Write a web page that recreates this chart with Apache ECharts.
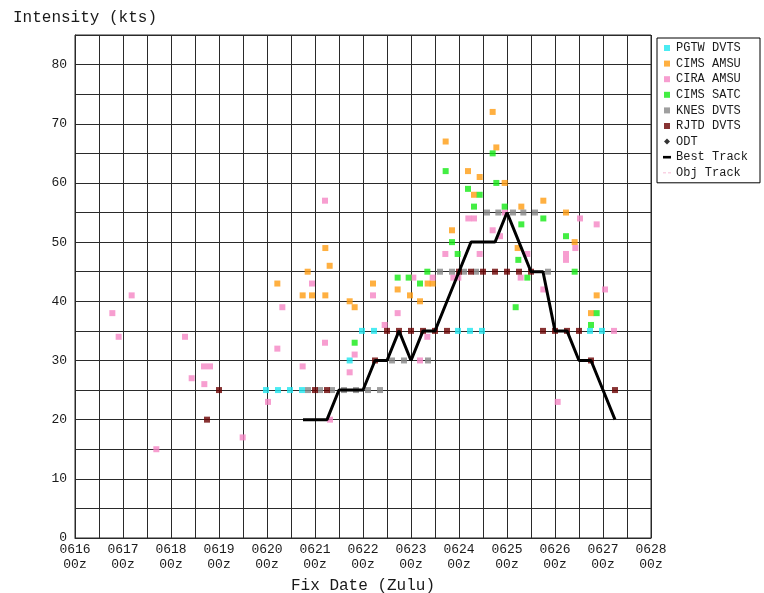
<!DOCTYPE html>
<html>
<head>
<meta charset="utf-8">
<title>Intensity fixes</title>
<script src="https://cdn.jsdelivr.net/npm/echarts@6/dist/echarts.min.js"></script>
<style>
  html, body { margin: 0; padding: 0; background: #fff; }
  #chart { width: 764px; height: 593px; }
</style>
</head>
<body>
<div id="chart"></div>
<script>
// Fix times are 'MMDD HH:MM' (UTC), intensities in knots.
const dayLabels = ['0616','0617','0618','0619','0620','0621','0622','0623','0624','0625','0626','0627','0628'];
const yTickLabels = [0, 10, 20, 30, 40, 50, 60, 70, 80];

const pgtwFixes = [
  ['0619 23:30', 25], ['0620 05:30', 25], ['0620 11:30', 25], ['0620 17:30', 25],
  ['0621 17:20', 30], ['0621 23:30', 35], ['0622 05:30', 35],
  ['0623 23:30', 35], ['0624 05:30', 35], ['0624 11:30', 35],
  ['0626 17:30', 35], ['0626 23:30', 35]
];

const cimsAmsuFixes = [
  ['0620 05:10', 43], ['0620 20:20', 45], ['0620 17:50', 41], ['0620 22:30', 41],
  ['0621 05:10', 41], ['0621 05:10', 49], ['0621 07:20', 46], ['0621 17:20', 40],
  ['0621 19:50', 39], ['0622 05:00', 43], ['0622 17:20', 42], ['0622 23:30', 41],
  ['0623 04:30', 40], ['0623 08:20', 43], ['0623 10:50', 43], ['0623 17:20', 67],
  ['0623 20:30', 52], ['0624 04:30', 62], ['0624 07:30', 58], ['0624 10:20', 61],
  ['0624 16:50', 72], ['0624 18:40', 66], ['0624 22:50', 60], ['0625 05:20', 49],
  ['0625 07:10', 56], ['0625 18:10', 57], ['0626 05:30', 55], ['0626 09:50', 50],
  ['0626 18:00', 38], ['0626 20:50', 41]
];

const ciraAmsuFixes = [
  ['0616 18:40', 38], ['0616 21:50', 34], ['0617 04:20', 41], ['0617 16:40', 15],
  ['0618 07:00', 34], ['0618 10:20', 27], ['0618 16:30', 29], ['0618 19:30', 29],
  ['0618 16:40', 26], ['0619 11:50', 17], ['0620 00:30', 23], ['0620 05:10', 32],
  ['0620 07:40', 39], ['0620 17:50', 29], ['0620 22:30', 43], ['0621 05:00', 57],
  ['0621 05:00', 33], ['0621 07:30', 20], ['0621 17:20', 28], ['0621 19:50', 31],
  ['0622 05:00', 41], ['0622 10:50', 36], ['0622 17:20', 38], ['0623 01:10', 44],
  ['0623 04:30', 30], ['0623 08:10', 34], ['0623 10:50', 44], ['0623 17:10', 48],
  ['0623 21:10', 44], ['0623 23:40', 44], ['0624 04:40', 54], ['0624 07:30', 54],
  ['0624 10:20', 48], ['0624 16:50', 52], ['0624 20:30', 51], ['0624 23:00', 55],
  ['0625 06:50', 44], ['0625 10:10', 48], ['0625 18:10', 42], ['0626 01:20', 23],
  ['0626 05:30', 48], ['0626 05:30', 47], ['0626 10:10', 49], ['0626 12:30', 54],
  ['0626 20:50', 53], ['0627 01:00', 42], ['0627 05:30', 35]
];

const cimsSatcFixes = [
  ['0621 19:50', 33], ['0622 17:20', 44], ['0622 22:50', 44], ['0623 04:30', 43],
  ['0623 08:10', 45], ['0623 17:20', 62], ['0623 20:30', 50], ['0623 23:20', 48],
  ['0624 04:30', 59], ['0624 07:30', 56], ['0624 10:20', 58], ['0624 16:50', 65],
  ['0624 18:40', 60], ['0624 22:50', 56], ['0625 04:20', 39], ['0625 05:40', 47],
  ['0625 07:10', 53], ['0625 10:10', 44], ['0625 18:10', 54], ['0626 05:30', 51],
  ['0626 09:50', 45], ['0626 18:00', 36], ['0626 20:50', 38]
];

const knesFixes = [
  ['0620 20:30', 25], ['0621 02:30', 25], ['0621 08:30', 25], ['0621 14:30', 25],
  ['0621 20:30', 25], ['0622 02:30', 25], ['0622 08:30', 25],
  ['0622 14:30', 30], ['0622 20:30', 30], ['0623 08:30', 30],
  ['0623 14:30', 45], ['0623 20:30', 45], ['0624 02:30', 45], ['0624 08:30', 45],
  ['0624 14:00', 55], ['0624 19:40', 55], ['0625 03:00', 55], ['0625 08:10', 55],
  ['0625 14:00', 55], ['0625 20:30', 45]
];

const rjtdFixes = [
  ['0618 18:00', 20], ['0619 00:00', 25],
  ['0621 00:00', 25], ['0621 06:00', 25], ['0622 06:00', 30],
  ['0622 12:00', 35], ['0622 18:00', 35], ['0623 00:00', 35], ['0623 06:00', 35],
  ['0623 12:00', 35], ['0623 18:00', 35],
  ['0624 00:00', 45], ['0624 06:00', 45], ['0624 12:00', 45], ['0624 18:00', 45],
  ['0625 00:00', 45], ['0625 06:00', 45], ['0625 12:00', 45],
  ['0625 18:00', 35], ['0626 00:00', 35], ['0626 06:00', 35], ['0626 12:00', 35],
  ['0626 18:00', 30], ['0627 06:00', 25]
];

const bestTrackTimes = [
  '0620 18:00', '0621 00:00', '0621 06:00', '0621 12:00', '0621 18:00', '0622 00:00',
  '0622 06:00', '0622 12:00', '0622 18:00', '0623 00:00', '0623 06:00', '0623 12:00',
  '0623 18:00', '0624 00:00', '0624 06:00', '0624 12:00', '0624 18:00', '0625 00:00',
  '0625 06:00', '0625 12:00', '0625 18:00', '0626 00:00', '0626 06:00', '0626 12:00',
  '0626 18:00', '0627 00:00', '0627 06:00'
];
const bestTrackValues = [
  20, 20, 20, 25, 25, 25,
  30, 30, 35, 30, 35, 35,
  40, 45, 50, 50, 50, 55,
  50, 45, 45, 35, 35, 30,
  30, 25, 20
];

// hours since 0616 00Z
function fixHours(s) {
  const day = parseInt(s.slice(2, 4), 10);
  const hh = parseInt(s.slice(5, 7), 10);
  const mm = parseInt(s.slice(8, 10), 10);
  return (day - 16) * 24 + hh + mm / 60;
}
const toPoints = fixes => fixes.map(f => [fixHours(f[0]), f[1]]);

const monoFont = '"Liberation Mono", "DejaVu Sans Mono", monospace';
const inkColor = '#1a1a1a';
const gridColor = '#2a2a2a';

function scatterSeries(name, color, fixes) {
  return {
    name: name,
    type: 'scatter',
    symbol: 'rect',
    symbolSize: 6,
    itemStyle: { color: color },
    data: toPoints(fixes),
    animation: false
  };
}

const squareIcon = 'path://M0,0H6V6H0Z';

const chart = echarts.init(document.getElementById('chart'), null, { renderer: 'canvas' });
chart.setOption({
  backgroundColor: '#fff',
  animation: false,
  title: {
    text: 'Intensity (kts)',
    left: 8,
    top: 5,
    textStyle: { fontFamily: monoFont, fontSize: 16, fontWeight: 'normal', color: inkColor }
  },
  grid: {
    left: 75, right: 113, top: 35, bottom: 55,
    outerBoundsMode: 'none',
    containLabel: false,
    show: true, borderColor: gridColor, borderWidth: 1, backgroundColor: '#fff'
  },
  legend: {
    orient: 'vertical',
    left: 657,
    top: 38,
    padding: [3, 12, 3, 6],
    itemWidth: 8,
    itemHeight: 6,
    itemGap: 1.6,
    backgroundColor: '#fff',
    borderColor: '#000',
    borderWidth: 1,
    selectedMode: false,
    textStyle: { fontFamily: monoFont, fontSize: 12, color: inkColor, lineHeight: 14 },
    data: [
      { name: 'PGTW DVTS', icon: squareIcon },
      { name: 'CIMS AMSU', icon: squareIcon },
      { name: 'CIRA AMSU', icon: squareIcon },
      { name: 'CIMS SATC', icon: squareIcon },
      { name: 'KNES DVTS', icon: squareIcon },
      { name: 'RJTD DVTS', icon: squareIcon },
      { name: 'ODT', icon: 'path://M3,0L6,3L3,6L0,3Z' },
      { name: 'Best Track', icon: 'path://M0,0H8V2.6H0Z' },
      { name: 'Obj Track', icon: 'path://M0,0H3V0.8H0Z M5,0H8V0.8H5Z' }
    ]
  },
  xAxis: {
    type: 'value',
    min: 0,
    max: (dayLabels.length - 1) * 24,
    interval: 12,
    name: 'Fix Date (Zulu)',
    nameLocation: 'middle',
    nameGap: 40,
    nameTextStyle: { fontFamily: monoFont, fontSize: 16, color: inkColor },
    axisLine: { show: true, lineStyle: { color: gridColor, width: 1 } },
    axisTick: { show: false },
    axisLabel: {
      margin: 4,
      fontFamily: monoFont,
      fontSize: 13,
      lineHeight: 15,
      color: inkColor,
      showMinLabel: true,
      showMaxLabel: true,
      formatter: v => (v % 24 === 0 ? dayLabels[v / 24] + '\n00z' : '')
    },
    splitLine: { show: true, lineStyle: { color: gridColor, width: 1 } }
  },
  yAxis: {
    type: 'value',
    min: 0,
    max: 85,
    interval: 5,
    axisLine: { show: true, lineStyle: { color: gridColor, width: 1 } },
    axisTick: { show: false },
    axisLabel: {
      margin: 8,
      fontFamily: monoFont,
      fontSize: 13,
      color: inkColor,
      showMaxLabel: false,
      verticalAlignMinLabel: 'middle',
      formatter: v => (yTickLabels.indexOf(v) >= 0 ? String(v) : '')
    },
    splitLine: { show: true, lineStyle: { color: gridColor, width: 1 } }
  },
  series: [
    scatterSeries('PGTW DVTS', '#1ee6ef', pgtwFixes),
    scatterSeries('CIMS AMSU', '#ff9c12', cimsAmsuFixes),
    scatterSeries('CIRA AMSU', '#f586c4', ciraAmsuFixes),
    scatterSeries('CIMS SATC', '#14ea14', cimsSatcFixes),
    scatterSeries('KNES DVTS', '#878787', knesFixes),
    scatterSeries('RJTD DVTS', '#6a0000', rjtdFixes),
    {
      name: 'ODT',
      type: 'scatter',
      symbol: 'diamond',
      symbolSize: 8,
      itemStyle: { color: '#000' },
      data: []
    },
    {
      name: 'Best Track',
      type: 'line',
      symbol: 'none',
      lineStyle: { color: '#000', width: 3 },
      itemStyle: { color: '#000' },
      data: bestTrackTimes.map((t, i) => [fixHours(t), bestTrackValues[i]]),
      z: 5
    },
    {
      name: 'Obj Track',
      type: 'line',
      symbol: 'none',
      lineStyle: { color: '#f4a6c8', width: 1, type: 'dashed' },
      itemStyle: { color: '#f4a6c8' },
      data: []
    }
  ]
});
</script>
</body>
</html>
